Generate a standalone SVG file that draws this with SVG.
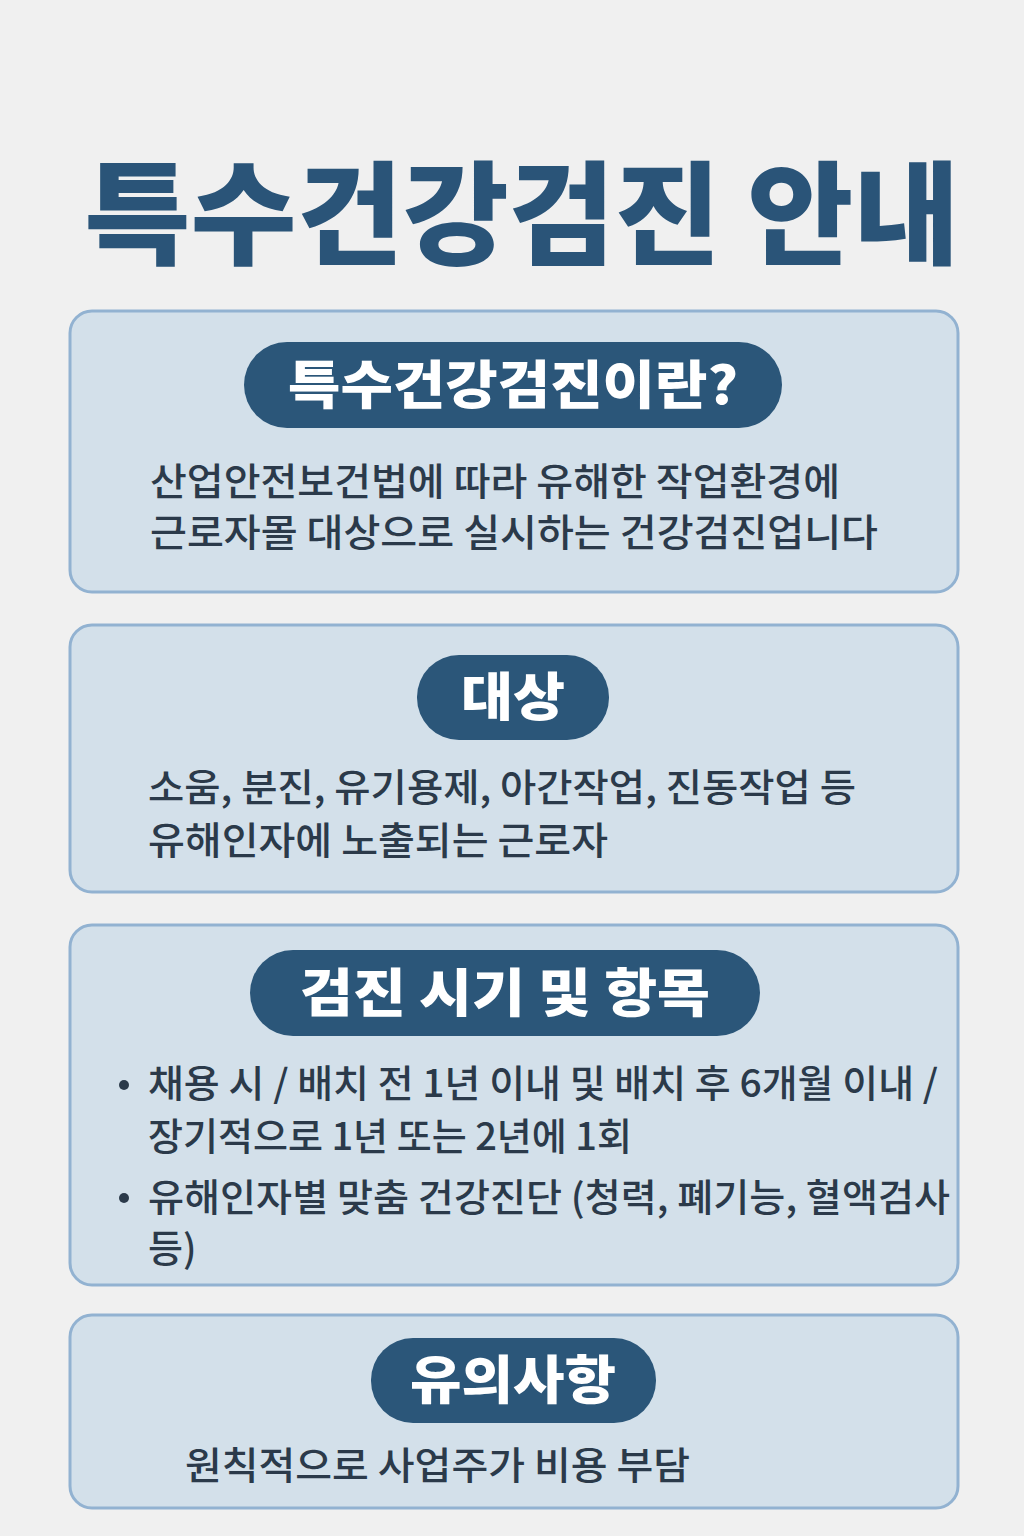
<svg xmlns="http://www.w3.org/2000/svg" width="1024" height="1536" viewBox="0 0 1024 1536">
<style>
.box{fill:#d3e0ea;stroke:#92b2d1;stroke-width:3}
.pill{fill:#2b5679}
.pt{font-family:"Noto Sans CJK KR",sans-serif;font-weight:900;fill:#fff;text-anchor:middle;font-size:52px}
.bt{font-family:"Noto Sans CJK KR",sans-serif;font-weight:500;fill:#2b3a4a;font-size:38px}
</style>
<rect width="1024" height="1536" fill="#f0f0f0"/>
<text x="522" y="256" text-anchor="middle" font-family="Noto Sans CJK KR,sans-serif" font-weight="900" font-size="112" fill="#2a5478" textLength="875" lengthAdjust="spacingAndGlyphs">특수건강검진 안내</text>
<g id="box1">
<rect class="box" x="70" y="311" width="888" height="281" rx="22"/>
<rect class="pill" x="244" y="342" width="538" height="86" rx="43"/>
<text class="pt" x="513" y="404" textLength="450" lengthAdjust="spacingAndGlyphs">특수건강검진이란?</text>
<text class="bt" x="150" y="495" textLength="690" lengthAdjust="spacingAndGlyphs">산업안전보건법에 따라 유해한 작업환경에</text>
<text class="bt" x="150" y="546" textLength="728" lengthAdjust="spacingAndGlyphs">근로자몰 대상으로 실시하는 건강검진업니다</text>
</g>
<g id="box2">
<rect class="box" x="70" y="625" width="888" height="267" rx="22"/>
<rect class="pill" x="417" y="655" width="192" height="85" rx="42"/>
<text class="pt" x="513" y="716" textLength="104" lengthAdjust="spacingAndGlyphs">대상</text>
<text class="bt" x="148" y="801" textLength="708" lengthAdjust="spacingAndGlyphs">소움, 분진, 유기용제, 아간작업, 진동작업 등</text>
<text class="bt" x="148" y="854" textLength="460" lengthAdjust="spacingAndGlyphs">유해인자에 노출되는 근로자</text>
</g>
<g id="box3">
<rect class="box" x="70" y="925" width="888" height="360" rx="22"/>
<rect class="pill" x="250" y="950" width="510" height="86" rx="43"/>
<text class="pt" x="505" y="1012" textLength="410" lengthAdjust="spacingAndGlyphs">검진 시기 및 항목</text>
<circle cx="124" cy="1085" r="5" fill="#2b3a4a"/>
<text class="bt" x="148" y="1097" textLength="790" lengthAdjust="spacingAndGlyphs">채용 시 / 배치 전 1년 이내 및 배치 후 6개월 이내 /</text>
<text class="bt" x="148" y="1150" textLength="484" lengthAdjust="spacingAndGlyphs">장기적으로 1년 또는 2년에 1회</text>
<circle cx="124" cy="1198" r="5" fill="#2b3a4a"/>
<text class="bt" x="148" y="1211" textLength="802" lengthAdjust="spacingAndGlyphs">유해인자별 맞춤 건강진단 (청력, 폐기능, 혈액검사</text>
<text class="bt" x="148" y="1262">등)</text>
</g>
<g id="box4">
<rect class="box" x="70" y="1315" width="888" height="193" rx="22"/>
<rect class="pill" x="371" y="1338" width="285" height="85" rx="42"/>
<text class="pt" x="513" y="1399" textLength="206" lengthAdjust="spacingAndGlyphs">유의사항</text>
<text class="bt" x="185" y="1479" textLength="505" lengthAdjust="spacingAndGlyphs">원칙적으로 사업주가 비용 부담</text>
</g>
</svg>
